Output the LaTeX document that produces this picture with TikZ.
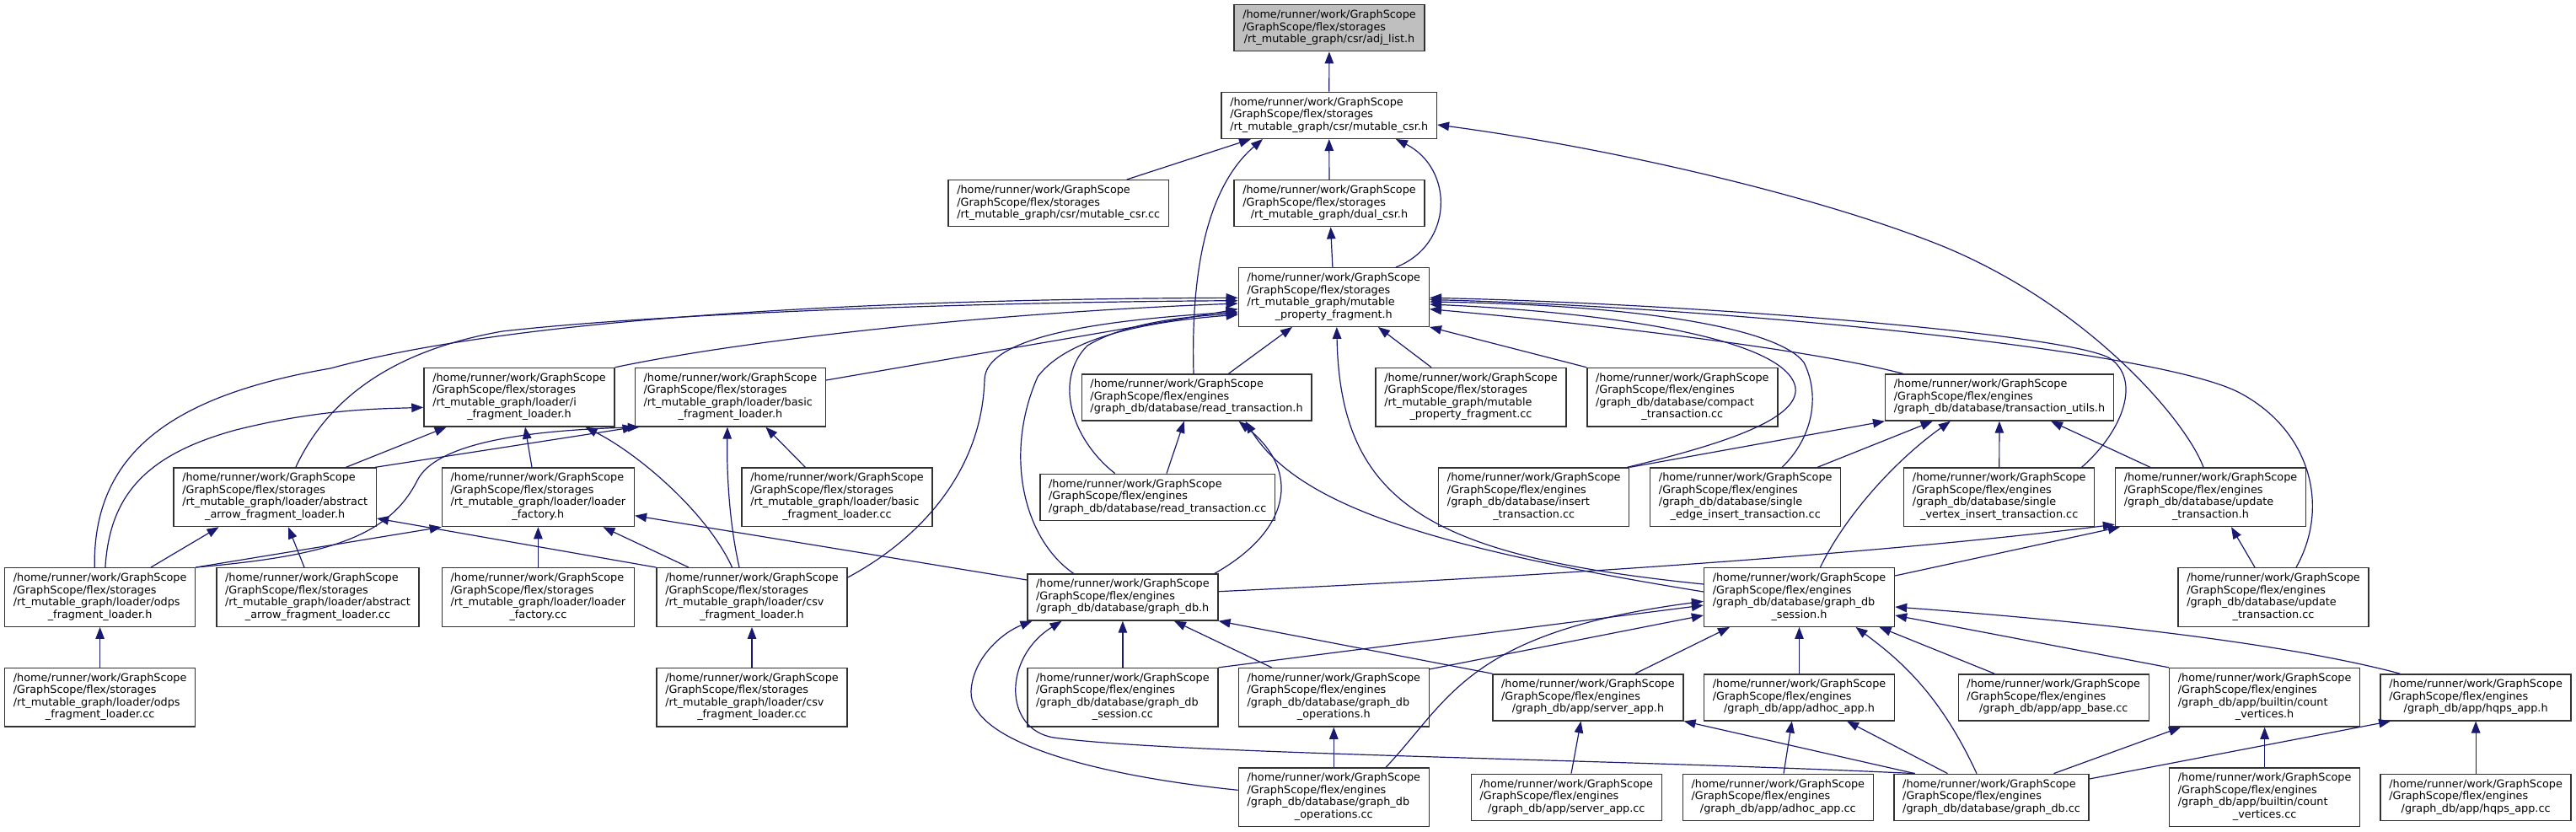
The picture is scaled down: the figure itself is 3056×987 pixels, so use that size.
\documentclass[tikz,border=0pt]{standalone}
\usepackage{fontspec}
\setmainfont{DejaVu Sans}
\usetikzlibrary{arrows.meta,calc}
\definecolor{nodegray}{RGB}{191,191,191}
\definecolor{edgeblue}{RGB}{25,25,112}
\definecolor{boxline}{RGB}{50,50,50}
\newcommand{\gsp}{/home/runner/work/GraphScope}
\newcommand{\fst}{/GraphScope/flex/storages}
\newcommand{\fen}{/GraphScope/flex/engines}
\newcommand{\labc}[3]{\begin{tabular}{@{}l@{}}#1\\#2\\\multicolumn{1}{@{}c@{}}{#3}\end{tabular}}
\newcommand{\labd}[4]{\begin{tabular}{@{}l@{}}#1\\#2\\#3\\\multicolumn{1}{@{}c@{}}{#4}\end{tabular}}
\tikzset{
  box/.style={draw=boxline, line width=1.4pt, fill=white, inner xsep=10.25pt, inner ysep=5.75pt,
    font=\fontsize{12.8}{14.5}\selectfont},
  e/.style={draw=edgeblue, line width=1.2pt, -{Triangle[length=14pt,width=10.5pt]}, fill=none}
}
\begin{document}
\begin{tikzpicture}[x=1pt,y=-1pt]
\useasboundingbox (0,0) rectangle (3056,987);
% row 1-4
\node[box,fill=nodegray] (adj) at (1577,33.2) {\labc{\gsp}{\fst}{/rt\_mutable\_graph/csr/adj\_list.h}};
\node[box] (mcsrh) at (1576.7,136.8) {\labc{\gsp}{\fst}{/rt\_mutable\_graph/csr/mutable\_csr.h}};
\node[box] (mcsrcc) at (1255.7,241.2) {\labc{\gsp}{\fst}{/rt\_mutable\_graph/csr/mutable\_csr.cc}};
\node[box] (dual) at (1577,241.2) {\labc{\gsp}{\fst}{/rt\_mutable\_graph/dual\_csr.h}};
\node[box] (mpfh) at (1582.3,352.5) {\labd{\gsp}{\fst}{/rt\_mutable\_graph/mutable}{\_property\_fragment.h}};
% row 5
\node[box] (ifl) at (616,471.2) {\labd{\gsp}{\fst}{/rt\_mutable\_graph/loader/i}{\_fragment\_loader.h}};
\node[box] (bflh) at (866.4,471.2) {\labd{\gsp}{\fst}{/rt\_mutable\_graph/loader/basic}{\_fragment\_loader.h}};
\node[box] (rth) at (1419.5,471.5) {\labc{\gsp}{\fen}{/graph\_db/database/read\_transaction.h}};
\node[box] (mpfcc) at (1745,471.2) {\labd{\gsp}{\fst}{/rt\_mutable\_graph/mutable}{\_property\_fragment.cc}};
\node[box] (compact) at (1995.8,471.2) {\labd{\gsp}{\fen}{/graph\_db/database/compact}{\_transaction.cc}};
\node[box] (tu) at (2372,471.5) {\labc{\gsp}{\fen}{/graph\_db/database/transaction\_utils.h}};
% row 6
\node[box] (aah) at (326.2,589.8) {\labd{\gsp}{\fst}{/rt\_mutable\_graph/loader/abstract}{\_arrow\_fragment\_loader.h}};
\node[box] (lfh) at (638.4,589.8) {\labd{\gsp}{\fst}{/rt\_mutable\_graph/loader/loader}{\_factory.h}};
\node[box] (bflcc) at (993,589.8) {\labd{\gsp}{\fst}{/rt\_mutable\_graph/loader/basic}{\_fragment\_loader.cc}};
\node[box] (rtcc) at (1373.2,589.8) {\labc{\gsp}{\fen}{/graph\_db/database/read\_transaction.cc}};
\node[box] (ins) at (1819.7,589.8) {\labd{\gsp}{\fen}{/graph\_db/database/insert}{\_transaction.cc}};
\node[box] (sei) at (2070.7,589.8) {\labd{\gsp}{\fen}{/graph\_db/database/single}{\_edge\_insert\_transaction.cc}};
\node[box] (svi) at (2371.7,589.8) {\labd{\gsp}{\fen}{/graph\_db/database/single}{\_vertex\_insert\_transaction.cc}};
\node[box] (uth) at (2622.5,589.8) {\labd{\gsp}{\fen}{/graph\_db/database/update}{\_transaction.h}};
% row 7
\node[box] (odpsh) at (118.6,708.5) {\labd{\gsp}{\fst}{/rt\_mutable\_graph/loader/odps}{\_fragment\_loader.h}};
\node[box] (aacc) at (377,708.5) {\labd{\gsp}{\fst}{/rt\_mutable\_graph/loader/abstract}{\_arrow\_fragment\_loader.cc}};
\node[box] (lfcc) at (638.4,708.5) {\labd{\gsp}{\fst}{/rt\_mutable\_graph/loader/loader}{\_factory.cc}};
\node[box] (csvh) at (892,708.5) {\labd{\gsp}{\fst}{/rt\_mutable\_graph/loader/csv}{\_fragment\_loader.h}};
\node[box] (gdbh) at (1331.9,708.5) {\labc{\gsp}{\fen}{/graph\_db/database/graph\_db.h}};
\node[box] (gdsh) at (2134.5,708.5) {\labd{\gsp}{\fen}{/graph\_db/database/graph\_db}{\_session.h}};
\node[box] (utcc) at (2697,708.5) {\labd{\gsp}{\fen}{/graph\_db/database/update}{\_transaction.cc}};
% row 8
\node[box] (odpscc) at (118.6,827.3) {\labd{\gsp}{\fst}{/rt\_mutable\_graph/loader/odps}{\_fragment\_loader.cc}};
\node[box] (csvcc) at (892,827.3) {\labd{\gsp}{\fst}{/rt\_mutable\_graph/loader/csv}{\_fragment\_loader.cc}};
\node[box] (gdscc) at (1331.9,827.3) {\labd{\gsp}{\fen}{/graph\_db/database/graph\_db}{\_session.cc}};
\node[box] (gdoh) at (1582.3,827.3) {\labd{\gsp}{\fen}{/graph\_db/database/graph\_db}{\_operations.h}};
\node[box] (sah) at (1883.9,827.3) {\labc{\gsp}{\fen}{/graph\_db/app/server\_app.h}};
\node[box] (ahh) at (2134.5,827.3) {\labc{\gsp}{\fen}{/graph\_db/app/adhoc\_app.h}};
\node[box] (abcc) at (2436.2,827.3) {\labc{\gsp}{\fen}{/graph\_db/app/app\_base.cc}};
\node[box] (cvh) at (2686.6,827.3) {\labd{\gsp}{\fen}{/graph\_db/app/builtin/count}{\_vertices.h}};
\node[box] (hqh) at (2937.1,827.3) {\labc{\gsp}{\fen}{/graph\_db/app/hqps\_app.h}};
% row 9
\node[box] (gdocc) at (1582.3,945.8) {\labd{\gsp}{\fen}{/graph\_db/database/graph\_db}{\_operations.cc}};
\node[box] (sacc) at (1858.3,945.8) {\labc{\gsp}{\fen}{/graph\_db/app/server\_app.cc}};
\node[box] (ahcc) at (2109.3,945.8) {\labc{\gsp}{\fen}{/graph\_db/app/adhoc\_app.cc}};
\node[box] (gdbcc) at (2362.5,945.8) {\labc{\gsp}{\fen}{/graph\_db/database/graph\_db.cc}};
\node[box] (cvcc) at (2686.6,945.8) {\labd{\gsp}{\fen}{/graph\_db/app/builtin/count}{\_vertices.cc}};
\node[box] (hqcc) at (2937.1,945.8) {\labc{\gsp}{\fen}{/graph\_db/app/hqps\_app.cc}};

% ---- edges: top
\draw[e] (mcsrh) -- (adj);
\draw[e] ([xshift=81pt]mcsrcc.north) -- ([xshift=-92.7pt]mcsrh.south);
\draw[e] (dual) -- (mcsrh);
\draw[e] ([xshift=73.6pt]mpfh.north) .. controls (1725,290) and (1725,200) .. ([xshift=79.2pt]mcsrh.south);
\draw[e] ([xshift=-3.5pt]rth.north) .. controls (1412,300) and (1440,215) .. ([xshift=-78.7pt]mcsrh.south);
\draw[e] ([xshift=-8.5pt]uth.north) .. controls (2594,500) and (2480,365) .. (2307,293) .. controls (2157,232) and (1908,175) .. ([yshift=-11.2pt]mcsrh.east);
\draw[e] ([xshift=-1.4pt]mpfh.north) -- ([xshift=1.6pt]dual.south);
% ---- into mpfh from left
\draw[e] ([xshift=-6.4pt]odpsh.north) .. controls (110,540) and (200,470) .. (392,437) .. controls (600,380) and (1000,355) .. ([yshift=-0.8pt]mpfh.west);
\draw[e] ([xshift=24.6pt]aah.north) .. controls (390,470) and (470,415) .. (596,393) .. controls (800,370) and (1200,358) .. ([yshift=-4.2pt]mpfh.west);
\draw[e] (ifl.north east) .. controls (900,400) and (1200,370) .. ([yshift=-7.5pt]mpfh.west);
\draw[e] ([yshift=20.2pt]bflh.east) -- ([yshift=-14.2pt]mpfh.west);
\draw[e] ([yshift=23.5pt]csvh.east) .. controls (1090,640) and (1165,560) .. (1168,450) .. controls (1170,400) and (1300,380) .. ([yshift=-17.5pt]mpfh.west);
\draw[e] ([xshift=-58.3pt]gdbh.north) .. controls (1215,640) and (1190,540) .. (1231,447) .. controls (1270,395) and (1380,380) .. ([yshift=-20.8pt]mpfh.west);
\draw[e] ([xshift=-50.5pt]rtcc.north) .. controls (1270,520) and (1250,450) .. (1290,410) .. controls (1340,380) and (1420,375) .. ([yshift=-19.2pt]mpfh.west);
% ---- into mpfh from below / right
\draw[e] ([xshift=37.9pt]rth.north) -- ([xshift=-49.3pt]mpfh.south);
\draw[e] ([xshift=-47pt]mpfcc.north) -- ([xshift=52.6pt]mpfh.south);
\draw[e] (compact.north west) -- (mpfh.south east);
\draw[e] ([yshift=15.5pt]gdsh.west) .. controls (1700,660) and (1590,600) .. ([xshift=3.5pt]mpfh.south);
\draw[e] ([xshift=97.8pt]svi.north) .. controls (2520,510) and (2540,450) .. (2503,425) .. controls (2450,395) and (2000,360) .. ([yshift=-0.8pt]mpfh.east);
\draw[e] ([xshift=27pt]utcc.north) .. controls (2765,600) and (2740,510) .. (2657,466) .. controls (2560,415) and (2050,365) .. ([yshift=-3pt]mpfh.east);
\draw[e] ([xshift=43.3pt]sei.north) .. controls (2150,520) and (2160,470) .. (2140,430) .. controls (2110,390) and (1950,362) .. ([yshift=-5.5pt]mpfh.east);
\draw[e] ([xshift=-3pt]ins.north east) .. controls (2030,530) and (2135,500) .. (2130,460) .. controls (2120,400) and (1900,370) .. ([yshift=-8.5pt]mpfh.east);
\draw[e] ([xshift=-114.4pt]tu.north) .. controls (2150,415) and (1900,385) .. ([yshift=-14.2pt]mpfh.east);
% ---- loaders
\draw[e] ([xshift=84.2pt]aah.north) -- ([xshift=-86.4pt]ifl.south);
\draw[e] ([xshift=-2pt]aah.north east) -- (bflh.south west);
\draw[e] ([xshift=-7.4pt]lfh.north) -- ([xshift=7pt]ifl.south);
\draw[e] ([xshift=6.3pt]odpsh.north) .. controls (130,590) and (170,540) .. (280,510) .. controls (380,485) and (450,485) .. ([yshift=-12.1pt]ifl.west);
\draw[e] (odpsh.north east) .. controls (380,660) and (460,640) .. (495,570) .. controls (520,520) and (650,510) .. ([xshift=6pt]bflh.south west);
\draw[e] ([xshift=60.4pt]odpsh.north) -- ([xshift=-66.6pt]aah.south);
\draw[e] ([xshift=-16pt]aacc.north) -- ([xshift=15.8pt]aah.south);
\draw[e] (csvh.north west) -- ([yshift=-25.2pt]aah.east);
\draw[e] (odpsh.north east) -- (lfh.south west);
\draw[e] ([xshift=-75pt]csvh.north) -- ([xshift=77pt]lfh.south);
\draw[e] (lfcc) -- (lfh);
\draw[e] ([yshift=20.5pt]gdbh.west) -- ([yshift=-21.9pt]lfh.east);
\draw[e] ([xshift=-23.5pt]csvh.north) .. controls (840,610) and (760,540) .. ([xshift=78.5pt]ifl.south);
\draw[e] ([xshift=-15pt]csvh.north) .. controls (865,620) and (862,560) .. ([xshift=-3.4pt]bflh.south);
\draw[e] ([xshift=-37.6pt]bflcc.north) -- ([xshift=42pt]bflh.south);
\draw[e] (odpscc) -- (odpsh);
\draw[e] (csvcc) -- (csvh);
% ---- engines
\draw[e] ([xshift=10.8pt]rtcc.north) -- ([xshift=-14.7pt]rth.south);
\draw[e] ([xshift=109pt]gdbh.north) .. controls (1530,630) and (1545,560) .. ([xshift=50pt]rth.south);
\draw[e] ([yshift=6.5pt]gdsh.west) .. controls (1700,650) and (1540,600) .. ([xshift=58pt]rth.south);
\draw[e] ([yshift=6.8pt]gdbh.east) .. controls (1800,685) and (2200,660) .. ([yshift=3pt]uth.south west);
\draw[e] ([yshift=25.5pt]gdsh.east) -- ([xshift=6pt]uth.south west);
\draw[e] ([xshift=-71.5pt]uth.north) -- ([xshift=61pt]tu.south);
\draw[e] ([xshift=-22pt]utcc.north) -- ([xshift=24.5pt]uth.south);
\draw[e] (ins.north east) -- (tu.south west);
\draw[e] ([xshift=85.3pt]sei.north) -- ([xshift=-79.3pt]tu.south);
\draw[e] (svi) -- (tu);
\draw[e] ([xshift=24.9pt]gdsh.north) .. controls (2190,610) and (2250,545) .. ([xshift=-58.2pt]tu.south);
% ---- lower
\draw[e] (gdscc) -- (gdbh);
\draw[e] (gdscc.north east) -- ([yshift=-9.5pt]gdsh.west);
\draw[e] ([xshift=-73.7pt]gdoh.north) -- ([xshift=61pt]gdbh.south);
\draw[e] ([yshift=-2pt]gdoh.north east) -- ([yshift=-21.5pt]gdsh.west);
\draw[e] (gdocc) -- (gdoh);
\draw[e] ([yshift=8.5pt]gdocc.west) .. controls (1300,920) and (1150,880) .. (1152,820) .. controls (1154,780) and (1190,750) .. ([xshift=-107.4pt]gdbh.south);
\draw[e] ([xshift=61.7pt]gdocc.north) .. controls (1720,830) and (1740,750) .. ([yshift=-4.8pt]gdsh.west);
\draw[e] (sah.north west) -- (gdbh.south east);
\draw[e] ([xshift=56pt]sah.north) -- ([xshift=-82.5pt]gdsh.south);
\draw[e] ([xshift=5.7pt]sacc.north) -- ([xshift=-8.4pt]sah.south);
\draw[e] ([xshift=-90.8pt]gdbcc.north) -- (sah.south east);
\draw[e] ([xshift=-90.8pt]gdbcc.north) .. controls (1900,900) and (1400,895) .. (1250,875) .. controls (1190,865) and (1190,780) .. ([xshift=-72.3pt]gdbh.south);
\draw[e] (ahh) -- (gdsh);
\draw[e] ([xshift=6.7pt]ahcc.north) -- ([xshift=-8.7pt]ahh.south);
\draw[e] ([xshift=-52pt]gdbcc.north) -- ([xshift=56.5pt]ahh.south);
\draw[e] ([xshift=-17.5pt]gdbcc.north) .. controls (2300,820) and (2250,780) .. ([xshift=67pt]gdsh.south);
\draw[e] ([xshift=-70.2pt]abcc.north) -- ([xshift=95pt]gdsh.south);
\draw[e] (cvh.north west) -- ([yshift=-21.5pt]gdsh.east);
\draw[e] ([xshift=-90pt]hqh.north) .. controls (2700,760) and (2450,735) .. ([yshift=-11.5pt]gdsh.east);
\draw[e] ([xshift=74pt]gdbcc.north) -- ([xshift=-99.6pt]cvh.south);
\draw[e] (cvcc) -- (cvh);
\draw[e] ([yshift=21.8pt]gdbcc.east) -- ([xshift=-101pt]hqh.south);
\draw[e] (hqcc) -- (hqh);
\end{tikzpicture}
\end{document}
